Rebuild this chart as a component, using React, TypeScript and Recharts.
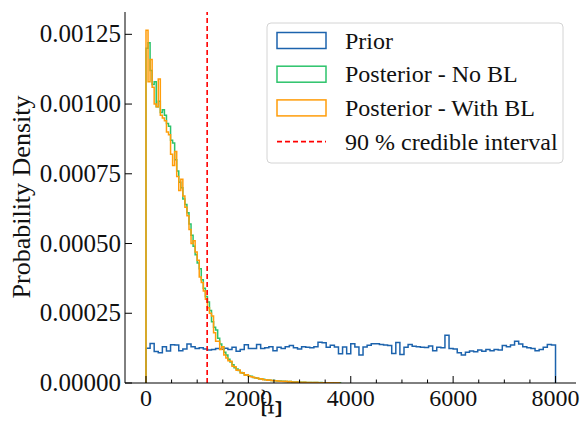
import React from 'react';
import { LineChart, Line, XAxis, YAxis, ReferenceLine } from 'recharts';

// histogram bin widths (data units)
const PRIOR_BIN = 80;
const POST_BIN = 40;

// prior density per bin, 0 .. 8000
const priorDensity = [
  1.25e-4, 1.42e-4, 1.13e-4, 1.08e-4, 1.30e-4, 1.15e-4, 1.37e-4, 1.36e-4, 1.16e-4, 1.22e-4,
  1.40e-4, 1.30e-4, 1.24e-4, 1.26e-4, 1.22e-4, 1.18e-4, 1.20e-4, 1.24e-4, 1.21e-4, 1.25e-4,
  1.20e-4, 1.28e-4, 1.14e-4, 1.20e-4, 1.37e-4, 1.24e-4, 1.24e-4, 1.38e-4, 1.24e-4, 1.26e-4,
  1.30e-4, 1.16e-4, 1.28e-4, 1.24e-4, 1.30e-4, 1.34e-4, 1.26e-4, 1.22e-4, 1.30e-4, 1.28e-4,
  1.26e-4, 1.30e-4, 1.46e-4, 1.44e-4, 1.28e-4, 1.35e-4, 1.29e-4, 1.05e-4, 1.29e-4, 1.05e-4,
  1.41e-4, 1.29e-4, 1.00e-4, 1.29e-4, 1.35e-4, 1.41e-4, 1.41e-4, 1.38e-4, 1.36e-4, 1.34e-4,
  1.06e-4, 1.45e-4, 1.02e-4, 1.28e-4, 1.38e-4, 1.32e-4, 1.30e-4, 1.28e-4, 1.27e-4, 1.33e-4,
  1.16e-4, 1.28e-4, 1.26e-4, 1.71e-4, 1.24e-4, 1.22e-4, 1.08e-4, 1.00e-4, 1.10e-4, 1.15e-4,
  1.12e-4, 1.18e-4, 1.14e-4, 1.20e-4, 1.16e-4, 1.20e-4, 1.18e-4, 1.34e-4, 1.30e-4, 1.36e-4,
  1.50e-4, 1.40e-4, 1.30e-4, 1.26e-4, 1.24e-4, 1.16e-4, 1.20e-4, 1.28e-4, 1.38e-4, 1.36e-4,
];

// posterior without BL, 0 .. 3800
const noBlDensity = [
  1.20e-3, 1.22e-3, 1.12e-3, 1.07e-3, 1.08e-3, 0.99e-3, 1.01e-3, 0.97e-3, 0.98e-3, 0.96e-3,
  0.93e-3, 0.92e-3, 0.87e-3, 0.86e-3, 0.80e-3, 0.76e-3, 0.72e-3, 0.70e-3, 0.66e-3, 0.64e-3,
  0.61e-3, 0.57e-3, 0.53e-3, 0.49e-3, 0.46e-3, 0.43e-3, 0.41e-3, 0.37e-3, 0.34e-3, 0.31e-3,
  0.29e-3, 0.26e-3, 0.22e-3, 0.20e-3, 0.19e-3, 0.16e-3, 0.14e-3, 0.13e-3, 0.11e-3, 0.10e-3,
  0.085e-3, 0.075e-3, 0.065e-3, 0.055e-3, 0.050e-3, 0.045e-3, 0.038e-3, 0.035e-3, 0.030e-3, 0.028e-3,
  0.025e-3, 0.024e-3, 0.020e-3, 0.019e-3, 0.017e-3, 0.015e-3, 0.014e-3, 0.013e-3, 0.012e-3, 0.011e-3,
  0.010e-3, 0.009e-3, 0.009e-3, 0.008e-3, 0.007e-3, 0.007e-3, 0.006e-3, 0.006e-3, 0.005e-3, 0.005e-3,
  0.005e-3, 0.004e-3, 0.004e-3, 0.004e-3, 0.003e-3, 0.003e-3, 0.003e-3, 0.003e-3, 0.002e-3, 0.002e-3,
  0.002e-3, 0.002e-3, 0.002e-3, 0.002e-3, 0.001e-3, 0.002e-3, 0.001e-3, 0.001e-3, 0.001e-3, 0.001e-3,
  0.001e-3, 0.001e-3, 0.0, 0.001e-3, 0.001e-3,
];

// posterior with BL, 0 .. 3800
const withBlDensity = [
  1.265e-3, 1.08e-3, 1.16e-3, 1.06e-3, 1.00e-3, 0.99e-3, 1.09e-3, 0.96e-3, 0.95e-3, 0.94e-3,
  0.90e-3, 0.89e-3, 0.82e-3, 0.78e-3, 0.83e-3, 0.74e-3, 0.69e-3, 0.73e-3, 0.67e-3, 0.63e-3,
  0.60e-3, 0.55e-3, 0.50e-3, 0.51e-3, 0.47e-3, 0.44e-3, 0.38e-3, 0.36e-3, 0.33e-3, 0.30e-3,
  0.27e-3, 0.25e-3, 0.24e-3, 0.18e-3, 0.15e-3, 0.15e-3, 0.12e-3, 0.13e-3, 0.10e-3, 0.09e-3,
  0.080e-3, 0.078e-3, 0.060e-3, 0.058e-3, 0.046e-3, 0.047e-3, 0.036e-3, 0.037e-3, 0.028e-3, 0.030e-3,
  0.024e-3, 0.022e-3, 0.021e-3, 0.018e-3, 0.018e-3, 0.014e-3, 0.015e-3, 0.012e-3, 0.012e-3, 0.010e-3,
  0.011e-3, 0.009e-3, 0.008e-3, 0.008e-3, 0.007e-3, 0.006e-3, 0.006e-3, 0.005e-3, 0.006e-3, 0.004e-3,
  0.005e-3, 0.004e-3, 0.003e-3, 0.004e-3, 0.003e-3, 0.003e-3, 0.002e-3, 0.003e-3, 0.002e-3, 0.002e-3,
  0.002e-3, 0.001e-3, 0.002e-3, 0.002e-3, 0.001e-3, 0.001e-3, 0.001e-3, 0.001e-3, 0.001e-3, 0.001e-3,
  0.001e-3, 0.0, 0.001e-3, 0.001e-3, 0.0,
];

const credibleLimit = 1195;

const xTicks = [0, 500, 1000, 1500, 2000, 2500, 3000, 3500, 4000, 4500, 5000, 5500, 6000, 6500, 7000, 7500, 8000];
const yTicks = [0, 0.00025, 0.0005, 0.00075, 0.001, 0.00125];

const BLUE = '#1c63ad';
const GREEN = '#2cc36b';
const ORANGE = '#ff9d0a';
const RED = '#ff0000';
// a single family name: a fallback list did not resolve in the renderer
const txt = { fontFamily: "'Liberation Serif'" };

// turn per-bin densities into step outline points
function toSteps(values: number[], width: number) {
  const pts = [{ x: 0, y: 0 }];
  values.forEach((v, i) => pts.push({ x: i * width, y: v }));
  const end = values.length * width;
  pts.push({ x: end, y: values[values.length - 1] });
  pts.push({ x: end, y: 0 });
  return pts;
}

const priorPts = toSteps(priorDensity, PRIOR_BIN);
const noBlPts = toSteps(noBlDensity, POST_BIN);
const withBlPts = toSteps(withBlDensity, POST_BIN);

const BottomTick = (props: any) => {
  const { x, y, payload } = props;
  const major = payload.value % 2000 === 0;
  return (
    <g>
      <line x1={x} x2={x} y1={y} y2={y - (major ? 7 : 3.5)} stroke="#000" strokeWidth={1} />
      {major && (
        <text x={x} y={y + 23} textAnchor="middle" style={txt} fontSize={24} fill="#111">
          {payload.value}
        </text>
      )}
    </g>
  );
};

const TopTick = (props: any) => {
  const { x, y, payload } = props;
  const major = payload.value % 2000 === 0;
  return <line x1={x} x2={x} y1={y} y2={y + (major ? 7 : 3.5)} stroke="#000" strokeWidth={1} />;
};

const LeftTick = (props: any) => {
  const { x, y, payload } = props;
  return (
    <g>
      <line x1={x} x2={x + 7} y1={y} y2={y} stroke="#000" strokeWidth={1} />
      <text x={x - 4} y={y + 8} textAnchor="end" style={txt} fontSize={25} fill="#111">
        {payload.value.toFixed(5)}
      </text>
    </g>
  );
};

const RightTick = (props: any) => {
  const { x, y } = props;
  return <line x1={x} x2={x - 7} y1={y} y2={y} stroke="#000" strokeWidth={1} />;
};

const legendItems = [
  { label: 'Prior', color: BLUE, kind: 'patch' },
  { label: 'Posterior - No BL', color: GREEN, kind: 'patch' },
  { label: 'Posterior - With BL', color: ORANGE, kind: 'patch' },
  { label: '90 % credible interval', color: RED, kind: 'line' },
];

export default function App() {
  return (
    <div style={{ position: 'absolute', left: 0, top: 0, width: 580, height: 437, background: '#fff' }}>
      <LineChart width={580} height={437} margin={{ top: 12, right: 4, bottom: 0, left: 0 }}>
        <XAxis
          xAxisId="bottom"
          dataKey="x"
          type="number"
          domain={[-410, 8400]}
          allowDataOverflow
          ticks={xTicks}
          interval={0}
          tickSize={0}
          tickMargin={0}
          tickLine={false}
          tick={<BottomTick />}
          height={54}
          axisLine={{ stroke: '#000' }}
        />
        <XAxis
          xAxisId="top"
          orientation="top"
          dataKey="x"
          type="number"
          domain={[-410, 8400]}
          allowDataOverflow
          ticks={xTicks}
          interval={0}
          tickSize={0}
          tickMargin={0}
          tickLine={false}
          tick={<TopTick />}
          height={0}
          axisLine={{ stroke: '#000' }}
        />
        <YAxis
          yAxisId="left"
          type="number"
          domain={[0, 0.00133]}
          allowDataOverflow
          ticks={yTicks}
          interval={0}
          tickSize={0}
          tickMargin={0}
          tickLine={false}
          tick={<LeftTick />}
          width={125}
          axisLine={{ stroke: '#000' }}
        />
        <YAxis
          yAxisId="right"
          orientation="right"
          type="number"
          domain={[0, 0.00133]}
          allowDataOverflow
          ticks={yTicks}
          interval={0}
          tickSize={0}
          tickMargin={0}
          tickLine={false}
          tick={<RightTick />}
          width={0}
          axisLine={{ stroke: '#000' }}
        />
        <Line xAxisId="bottom" yAxisId="left" data={priorPts} dataKey="y" type="stepAfter" stroke={BLUE} strokeWidth={1.5} dot={false} isAnimationActive={false} />
        <Line xAxisId="bottom" yAxisId="left" data={noBlPts} dataKey="y" type="stepAfter" stroke={GREEN} strokeWidth={1.5} dot={false} isAnimationActive={false} />
        <Line xAxisId="bottom" yAxisId="left" data={withBlPts} dataKey="y" type="stepAfter" stroke={ORANGE} strokeWidth={1.5} dot={false} isAnimationActive={false} />
        <ReferenceLine xAxisId="bottom" yAxisId="left" x={credibleLimit} stroke={RED} strokeWidth={1.6} strokeDasharray="5 3" />
      </LineChart>
      <svg width={580} height={437} style={{ position: 'absolute', left: 0, top: 0, pointerEvents: 'none' }}>
        <text transform="translate(30 197) rotate(-90)" textAnchor="middle" style={txt} fontSize={26} fill="#111">
          Probability Density
        </text>
        <text transform="translate(270 409) rotate(-90)" textAnchor="middle" dominantBaseline="central" style={txt} fontSize={30} fill="#111">
          Ξ̃
        </text>
        <rect x={267} y={23} width={296} height={140} rx={4} fill="#fff" fillOpacity={0.85} stroke="#d4d4d4" />
        {legendItems.map((it, i) => {
          const cy = 40.5 + i * 33.7;
          return (
            <g key={it.label}>
              {it.kind === 'patch' ? (
                <rect x={277} y={cy - 8} width={49} height={16} fill="none" stroke={it.color} strokeWidth={1.5} />
              ) : (
                <line x1={277} x2={326} y1={cy} y2={cy} stroke={it.color} strokeWidth={1.6} strokeDasharray="5 3" />
              )}
              <text x={345} y={cy + 8} style={txt} fontSize={24} fill="#111">
                {it.label}
              </text>
            </g>
          );
        })}
      </svg>
    </div>
  );
}
